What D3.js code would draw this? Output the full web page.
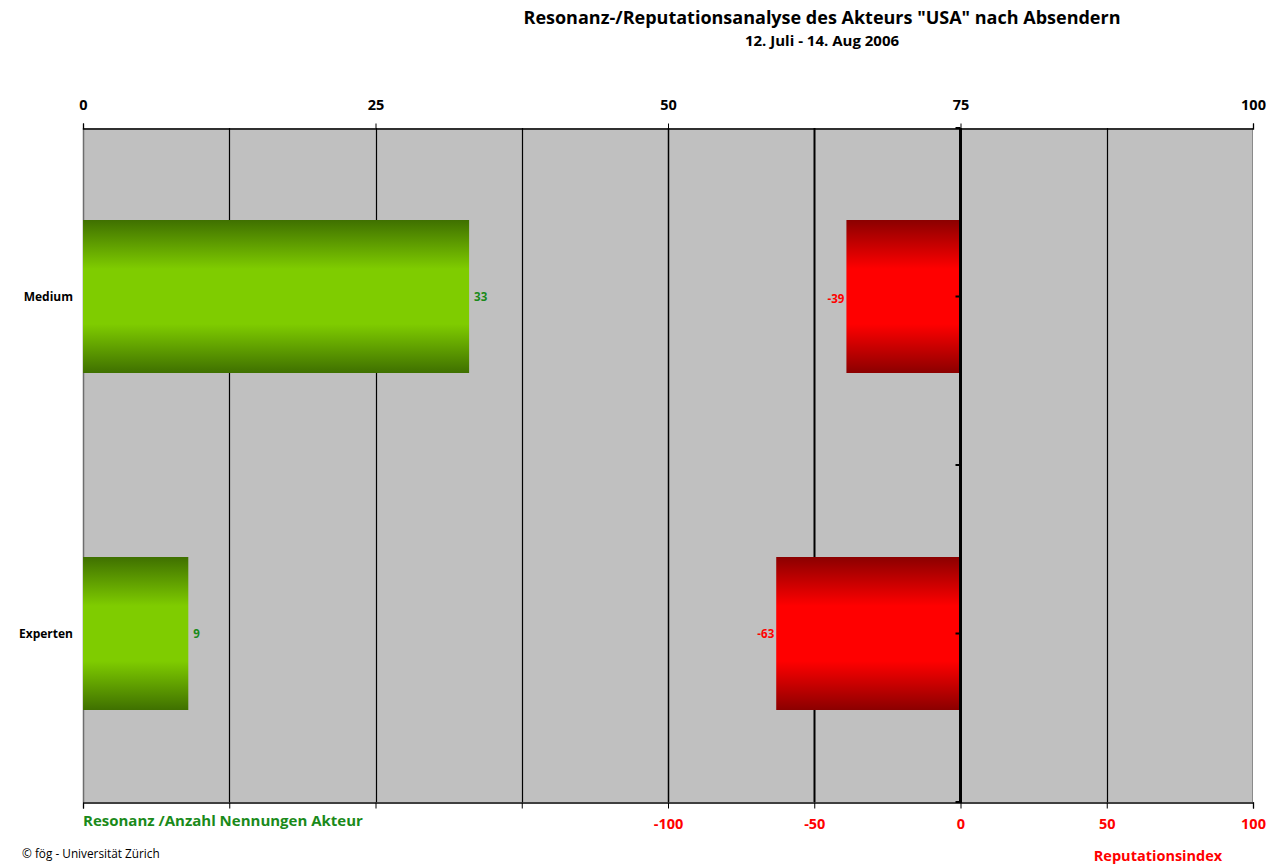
<!DOCTYPE html>
<html><head><meta charset="utf-8">
<script src="https://cdn.jsdelivr.net/npm/d3@7"></script>
<style>
body{margin:0;background:#fff;}
text{font-family:"Open Sans",sans-serif;}
</style></head>
<body><svg id="c" width="1285" height="864"></svg>
<script>
const categories = ["Medium", "Experten"];
const resonanz = [33, 9];
const reputation = [-39, -63];
const topTicks = [0, 25, 50, 75, 100];
const bottomTicks = [-100, -50, 0, 50, 100];
const gridRep = [-250, -200, -150, -100, -50, 50];

const svg = d3.select("#c");
const L = 83, R = 1253, T = 128, B = 802;
const xRes = d3.scaleLinear().domain([0, 100]).range([L, R]);
const xRep = d3.scaleLinear().domain([-300, 100]).range([L, R]);
const y = d3.scaleBand().domain(categories).range([T, B]).paddingInner(0.546).paddingOuter(0.273);

const defs = svg.append("defs");
function grad(id, dark, light) {
  const g = defs.append("linearGradient").attr("id", id).attr("x1", 0).attr("y1", 0).attr("x2", 0).attr("y2", 1);
  [[0, dark], [0.32, light], [0.68, light], [1, dark]].forEach(([o, c]) =>
    g.append("stop").attr("offset", o).attr("stop-color", c));
}
grad("gG", "#3f7000", "#7fcc00");
grad("gR", "#8b0000", "#ff0000");

// plot background
svg.append("rect").attr("x", L).attr("y", T).attr("width", R - L).attr("height", B - T).attr("fill", "#c0c0c0");

// gridlines
svg.append("g").selectAll("line").data(gridRep).join("line")
  .attr("x1", d => Math.round(xRep(d)) + 0.5).attr("x2", d => Math.round(xRep(d)) + 0.5)
  .attr("y1", T).attr("y2", B).attr("stroke", "#000")
  .attr("stroke-width", d => d === -50 ? 2 : (d === -100 ? 1.5 : 1.2));

// plot borders
svg.append("line").attr("x1", L + 0.5).attr("x2", L + 0.5).attr("y1", T).attr("y2", B).attr("stroke", "#6e6e6e").attr("stroke-width", 1.5);
svg.append("line").attr("x1", R - 0.5).attr("x2", R - 0.5).attr("y1", T).attr("y2", B).attr("stroke", "#8a8a8a").attr("stroke-width", 1);

// top axis
const topAxis = d3.axisTop(xRes).tickValues(topTicks).tickSize(5).tickPadding(14).tickFormat(d => String(d));
const gt = svg.append("g").attr("transform", `translate(0,${T + 0.5})`).call(topAxis);
gt.select(".domain").attr("stroke", "#000").attr("stroke-width", 1.3);
gt.selectAll(".tick line").attr("stroke", "#000");
gt.selectAll("text").attr("font-size", 14.5).attr("font-weight", "bold").attr("fill", "#000").attr("font-family", "Open Sans");

// bottom axis
const botAxis = d3.axisBottom(xRep).tickValues(d3.range(-300, 101, 50)).tickSize(6).tickPadding(10)
  .tickFormat(d => bottomTicks.includes(d) ? String(d) : "");
const gb = svg.append("g").attr("transform", `translate(0,${B + 0.5})`).call(botAxis);
gb.select(".domain").attr("stroke", "#000").attr("stroke-width", 1.3);
gb.selectAll(".tick line").attr("stroke", "#000");
gb.selectAll("text").attr("font-size", 14.5).attr("font-weight", "bold").attr("fill", "#ff0000").attr("font-family", "Open Sans");

// bars
svg.append("g").selectAll("rect").data(categories).join("rect")
  .attr("x", xRes(0)).attr("y", d => y(d))
  .attr("width", (d, i) => xRes(resonanz[i]) - xRes(0)).attr("height", y.bandwidth())
  .attr("fill", "url(#gG)");
svg.append("g").selectAll("rect").data(categories).join("rect")
  .attr("x", (d, i) => xRep(reputation[i])).attr("y", d => y(d))
  .attr("width", (d, i) => xRep(0) - xRep(reputation[i])).attr("height", y.bandwidth())
  .attr("fill", "url(#gR)");

// zero axis line
const x0 = xRep(0);
svg.append("line").attr("x1", x0).attr("x2", x0).attr("y1", T).attr("y2", B + 1).attr("stroke", "#000").attr("stroke-width", 3);
const zeroTicks = [T, y(categories[0]) + y.bandwidth() / 2, (T + B) / 2, y(categories[1]) + y.bandwidth() / 2, B];
svg.append("g").selectAll("line").data(zeroTicks).join("line")
  .attr("x1", x0 - 5).attr("x2", x0).attr("y1", d => d).attr("y2", d => d)
  .attr("stroke", "#000").attr("stroke-width", 2);

// value labels
svg.append("g").selectAll("text").data(categories).join("text")
  .attr("x", (d, i) => xRes(resonanz[i]) + 5).attr("y", d => y(d) + y.bandwidth() / 2 + 4)
  .attr("font-size", 11.5).attr("font-weight", "bold").attr("fill", "#1a8a1a")
  .text((d, i) => resonanz[i]);
svg.append("g").selectAll("text").data(categories).join("text")
  .attr("x", (d, i) => xRep(reputation[i]) - 2).attr("y", (d, i) => y(d) + y.bandwidth() / 2 + (i === 0 ? 6 : 4))
  .attr("text-anchor", "end")
  .attr("font-size", 11.5).attr("font-weight", "bold").attr("fill", "#ff0000")
  .text((d, i) => reputation[i]);

// category labels
svg.append("g").selectAll("text").data(categories).join("text")
  .attr("x", 73).attr("y", d => y(d) + y.bandwidth() / 2 + 4)
  .attr("text-anchor", "end").attr("font-size", 12).attr("font-weight", "bold").attr("fill", "#000")
  .text(d => d);

// titles
svg.append("text").attr("x", 822).attr("y", 24).attr("text-anchor", "middle")
  .attr("font-size", 18).attr("font-weight", "bold").attr("fill", "#000")
  .text('Resonanz-/Reputationsanalyse des Akteurs "USA" nach Absendern');
svg.append("text").attr("x", 822).attr("y", 46).attr("text-anchor", "middle")
  .attr("font-size", 15).attr("font-weight", "bold").attr("fill", "#000")
  .text("12. Juli - 14. Aug 2006");

svg.append("text").attr("x", 83).attr("y", 826)
  .attr("font-size", 15).attr("font-weight", "bold").attr("fill", "#1a8a1a")
  .text("Resonanz /Anzahl Nennungen Akteur");
svg.append("text").attr("x", 1158).attr("y", 861).attr("text-anchor", "middle")
  .attr("font-size", 14.5).attr("font-weight", "bold").attr("fill", "#ff0000")
  .text("Reputationsindex");
svg.append("text").attr("x", 22).attr("y", 858)
  .attr("font-size", 11.8).attr("fill", "#000")
  .text("© fög - Universität Zürich");
</script></body></html>
